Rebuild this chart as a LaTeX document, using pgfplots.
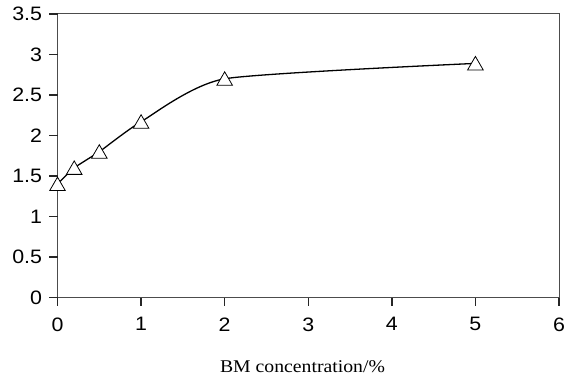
\documentclass[border=0pt]{standalone}
\usepackage{fontspec}
\setmainfont{Liberation Serif}
\newfontfamily\arial{Liberation Sans}
\usepackage{graphicx}
\usepackage{pgfplots}
\pgfplotsset{compat=1.18}
\begin{document}
\begin{tikzpicture}
\useasboundingbox (0bp,0bp) rectangle (574bp,376bp);
\begin{axis}[
  at={(57.5bp,78.5bp)}, anchor=south west,
  scale only axis, width=501.5bp, height=283.5bp,
  xmin=0, xmax=6, ymin=0, ymax=3.5,
  xtick={0,1,2,3,4,5,6},
  ytick={0,0.5,1,1.5,2,2.5,3,3.5},
  tick align=outside,
  major tick length=8bp,
  every axis/.append style={line width=1bp},
  axis line style={black!70},
  tick style={black!85, line width=1.5bp},
  tick pos=left,
  tick label style={font=\arial\fontsize{19.5}{21}\selectfont, inner sep=0pt},
  xticklabel style={anchor=north, yshift=-11.5bp},
  yticklabel style={anchor=east, xshift=-7bp},
  xticklabel={\scalebox{1.1}[1]{\pgfmathprintnumber{\tick}}},
  yticklabel={\scalebox{1.1}[1]{\pgfmathprintnumber{\tick}}},
  /pgf/number format/assume math mode=true,
  clip=false,
]
\pgfplotsinvokeforeach{0,1,2,3,4,5,6}{
  \draw[black!85, line width=1.5bp] (axis cs:#1,0) -- ++(0bp,-8bp);
}
\pgfplotsinvokeforeach{0,0.5,1,1.5,2,2.5,3,3.5}{
  \draw[black!85, line width=1.5bp] (axis cs:0,#1) -- ++(-8bp,0bp);
}
\addplot[black, line width=1.3bp, smooth, tension=0.35, mark=triangle*, mark size=9bp,
  mark options={fill=white, draw=black, line width=0.8bp, yshift=-2bp}]
  coordinates {(0,1.4) (0.2,1.6) (0.5,1.8) (1,2.17) (2,2.7) (5,2.89)};
\end{axis}
\node[anchor=base] at (302.5bp,3.3bp) {\scalebox{1.1}[1]{\fontsize{18}{21}\selectfont BM concentration/\%}};
\end{tikzpicture}
\end{document}
